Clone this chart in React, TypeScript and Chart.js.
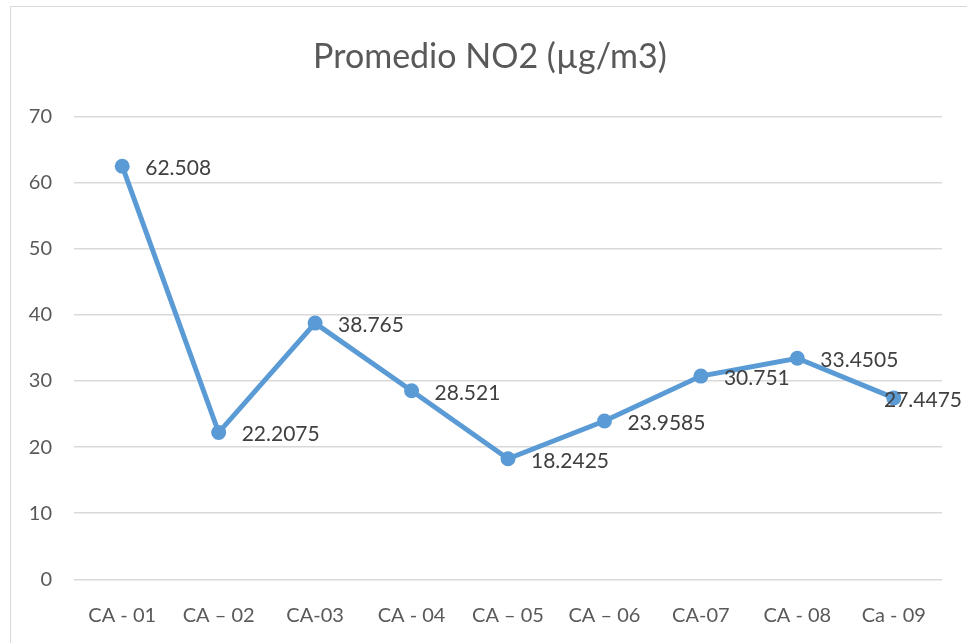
import React, { useEffect, useRef } from "react";
import { Chart, registerables } from "chart.js";

Chart.register(...registerables);

const categories = ["CA - 01", "CA – 02", "CA-03", "CA - 04", "CA – 05", "CA – 06", "CA-07", "CA - 08", "Ca - 09"];
const values = [62.508, 22.2075, 38.765, 28.521, 18.2425, 23.9585, 30.751, 33.4505, 27.4475];
const labelTexts = ["62.508", "22.2075", "38.765", "28.521", "18.2425", "23.9585", "30.751", "33.4505", "27.4475"];
const chartTitle = "Promedio NO2 (µg/m3)";

const FONT = "Lato, 'Open Sans', sans-serif";

const dataLabelPlugin = {
  id: "dataLabelsRight",
  afterDatasetsDraw(chart: any) {
    const ctx = chart.ctx;
    const meta = chart.getDatasetMeta(0);
    ctx.save();
    ctx.font = `21px ${FONT}`;
    ctx.fillStyle = "#404040";
    ctx.textBaseline = "middle";
    ctx.textAlign = "left";
    meta.data.forEach((pt: any, i: number) => {
      const t = labelTexts[i];
      const w = ctx.measureText(t).width;
      let x = pt.x + 23;
      const maxX = chart.width - 5 - w;
      if (x > maxX) x = maxX;
      ctx.fillText(t, x, pt.y + 2);
    });
    ctx.restore();
  },
};

// Title centred over the chart frame (frame spans from x=10 to beyond the window)
const frameTitlePlugin = {
  id: "frameTitle",
  afterDraw(chart: any) {
    const ctx = chart.ctx;
    ctx.save();
    ctx.font = `34px ${FONT}`;
    ctx.fillStyle = "#595959";
    ctx.textAlign = "center";
    ctx.textBaseline = "middle";
    ctx.fillText(chartTitle, 490, 57);
    ctx.restore();
  },
};

export default function App() {
  const ref = useRef<HTMLCanvasElement | null>(null);
  useEffect(() => {
    if (!ref.current) return;
    const chart = new Chart(ref.current, {
      type: "line",
      data: {
        labels: categories,
        datasets: [
          {
            data: values,
            borderColor: "#5b9bd5",
            backgroundColor: "#5b9bd5",
            borderWidth: 5,
            pointRadius: 7.5,
            pointBackgroundColor: "#5b9bd5",
            pointBorderColor: "#5b9bd5",
            pointBorderWidth: 0,
            tension: 0,
          },
        ],
      },
      options: {
        animation: false,
        responsive: false,
        layout: { padding: { left: 0, right: 25, top: 116.7, bottom: 0 } },
        plugins: {
          legend: { display: false },
          tooltip: { enabled: false },
          title: { display: false },
        },
        scales: {
          x: {
            offset: true,
            grid: { display: false, drawTicks: false },
            border: { display: false },
            ticks: {
              color: "#595959",
              font: { family: FONT, size: 20 },
              padding: 24,
              maxRotation: 0,
              autoSkip: false,
            },
            afterFit: (s: any) => {
              s.height = 63.7;
            },
          },
          y: {
            min: 0,
            max: 70,
            grid: { color: "#d9d9d9", lineWidth: 1.5, drawTicks: false },
            border: { display: false },
            ticks: {
              stepSize: 10,
              color: "#595959",
              font: { family: FONT, size: 20 },
              padding: 22,
            },
            afterFit: (s: any) => {
              s.width = 74;
            },
          },
        },
      },
      plugins: [dataLabelPlugin, frameTitlePlugin],
    });
    return () => chart.destroy();
  }, []);
  return (
    <div style={{ position: "fixed", left: 0, top: 0, width: 967, height: 643, background: "#fff", overflow: "hidden" }}>
      <div
        style={{
          position: "absolute",
          left: 10,
          top: 6,
          width: 980,
          height: 660,
          border: "1.5px solid #d9d9d9",
          boxSizing: "border-box",
        }}
      />
      <canvas ref={ref} width={967} height={643} style={{ position: "absolute", left: 0, top: 0 }} />
    </div>
  );
}
